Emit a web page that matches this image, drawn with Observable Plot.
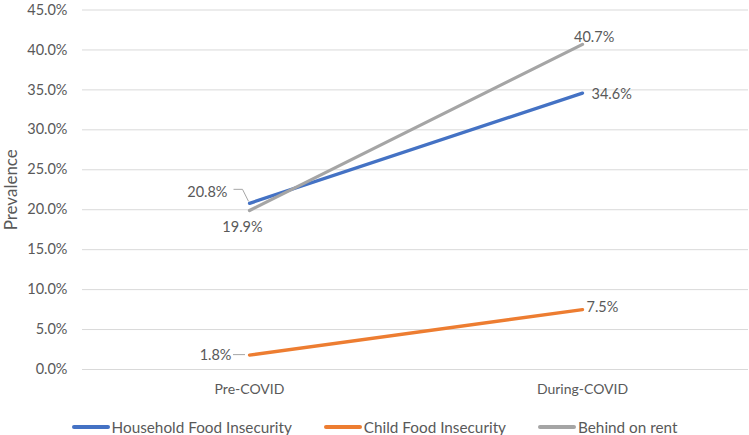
<!DOCTYPE html>
<html><head><meta charset="utf-8">
<script src="https://cdn.jsdelivr.net/npm/d3@7"></script>
<script src="https://cdn.jsdelivr.net/npm/@observablehq/plot@0.6"></script>
<style>
html,body{margin:0;background:#fff;overflow:hidden;font-family:Lato,"Open Sans",sans-serif;}
#chart svg{display:block;}
#legend{display:flex;justify-content:center;align-items:center;gap:32px;height:30px;margin-top:7px;font-size:15.3px;color:#595959;font-family:Lato,sans-serif;}
#legend .item{display:flex;align-items:center;gap:2px;}
#legend .sw{width:38px;height:4px;border-radius:2px;}
</style></head><body><div id="chart"></div><div id="legend"></div>
<script>
const periods = ["Pre-COVID", "During-COVID"];
const seriesNames = ["Household Food Insecurity", "Child Food Insecurity", "Behind on rent"];
const household = [0.208, 0.346];
const child = [0.018, 0.075];
const rent = [0.199, 0.407];
const yTicks = [0, 0.05, 0.10, 0.15, 0.20, 0.25, 0.30, 0.35, 0.40, 0.45];
const colors = ["#4472C4", "#ED7D31", "#A5A5A5"];

const seriesValues = [household, child, rent];
const rows = [];
seriesNames.forEach((s, i) => periods.forEach((p, j) => rows.push({series: s, period: p, value: seriesValues[i][j]})));

const fmt = d3.format(".1%");
const textColor = "#595959";
const fs = 14.5;

// label placement (styling) per series/period
const place = {
  "Household Food Insecurity|Pre-COVID": {textAnchor: "end", dx: -22, dy: -11},
  "Household Food Insecurity|During-COVID": {textAnchor: "start", dx: 9, dy: 1},
  "Child Food Insecurity|Pre-COVID": {textAnchor: "end", dx: -18, dy: 0},
  "Child Food Insecurity|During-COVID": {textAnchor: "start", dx: 4, dy: -2},
  "Behind on rent|Pre-COVID": {textAnchor: "middle", dx: -7, dy: 17},
  "Behind on rent|During-COVID": {textAnchor: "start", dx: -8.5, dy: -7}
};
const labelMarks = Object.entries(place).map(([k, o]) => {
  const [s, p] = k.split("|");
  return Plot.text(rows.filter(d => d.series === s && d.period === p), {
    x: "period", y: "value", text: d => fmt(d.value), fill: textColor, fontSize: fs, ...o
  });
});

const leaders = (index, scales) => {
  const g = d3.create("svg:g").attr("fill", "none").attr("stroke", "#A6A6A6").attr("stroke-width", 1);
  const x0 = scales.x(periods[0]);
  const yh = scales.y(household[0]);
  g.append("path").attr("d", `M${x0 - 15.5},${yh - 13.5}H${x0 - 6.5}L${x0 - 0.5},${yh - 1.5}`);
  const yc = scales.y(child[0]);
  g.append("path").attr("d", `M${x0 - 16},${yc}H${x0 - 4}`);
  return g.node();
};

const chart = Plot.plot({
  width: 749, height: 405,
  marginTop: 9.5, marginBottom: 36, marginLeft: 82, marginRight: 1,
  style: {fontFamily: "Lato, sans-serif", color: textColor, background: "#fff"},
  x: {type: "point", domain: periods, padding: 0.5, label: null},
  y: {domain: [0, 0.45], label: null},
  color: {domain: seriesNames, range: colors},
  marks: [
    Plot.gridY(yTicks, {stroke: "#D9D9D9", strokeOpacity: 1, strokeWidth: 1}),
    Plot.axisY({ticks: yTicks, tickFormat: fmt, tickSize: 0, tickPadding: 15, fontSize: fs, label: null, fill: textColor}),
    Plot.axisX({tickSize: 0, tickPadding: 14.5, fontSize: 14, label: null, fill: textColor}),
    Plot.text(["Prevalence"], {frameAnchor: "left", textAnchor: "middle", rotate: -90, dx: -71, fontSize: 17, fill: textColor}),
    Plot.line(rows, {x: "period", y: "value", z: "series", stroke: "series", strokeWidth: 3.3, strokeLinecap: "round"}),
    leaders,
    ...labelMarks
  ]
});
document.getElementById("chart").appendChild(chart);

const legend = d3.select("#legend");
seriesNames.forEach((s, i) => {
  const it = legend.append("div").attr("class", "item");
  it.append("div").attr("class", "sw").style("background", colors[i]);
  it.append("span").text(s);
});
</script></body></html>
